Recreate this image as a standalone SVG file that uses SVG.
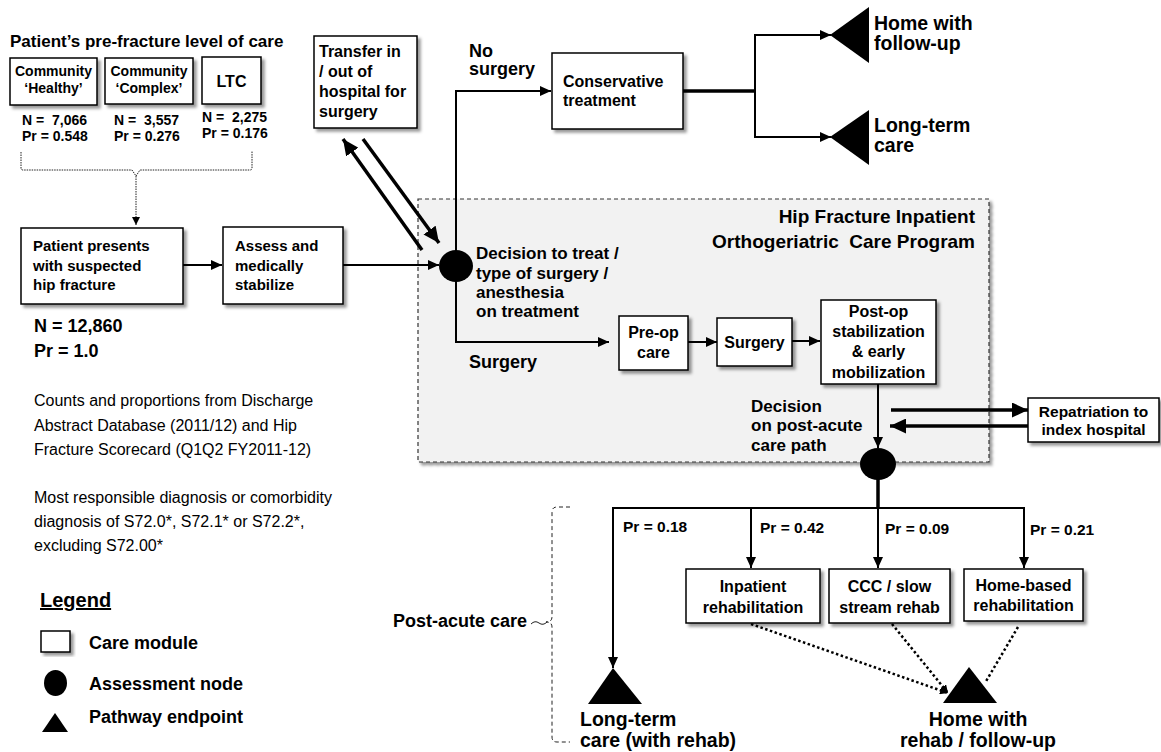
<svg xmlns="http://www.w3.org/2000/svg" width="1161" height="752" viewBox="0 0 1161 752">
<defs>
<style>
text{font-family:"Liberation Sans",Arial,sans-serif;fill:#000}
.b{font-weight:bold}
.pre{white-space:pre}
.box{fill:#fff;stroke:#000;stroke-width:1.5}
.ln{fill:none;stroke:#000;stroke-width:2}
.thk{fill:none;stroke:#000;stroke-width:3.5}
.dot{fill:none;stroke:#000;stroke-width:2.5;stroke-dasharray:2.5 2.5}
.fine{fill:none;stroke:#222;stroke-width:1;stroke-dasharray:1.5 1}
.c{text-anchor:middle}
.r{text-anchor:end}
</style>
<filter id="sh" x="-10%" y="-10%" width="130%" height="130%">
<feDropShadow dx="3" dy="3" stdDeviation="1.5" flood-color="#000" flood-opacity="0.4"/>
</filter>
<marker id="a" markerUnits="userSpaceOnUse" markerWidth="11" markerHeight="10" refX="11" refY="5" orient="auto">
<path d="M0,0 L11,5 L0,10 z" fill="#000"/>
</marker>
<marker id="ab" markerUnits="userSpaceOnUse" markerWidth="16" markerHeight="15" refX="16" refY="7.5" orient="auto">
<path d="M0,0 L16,7.5 L0,15 z" fill="#000"/>
</marker>
<marker id="as" markerUnits="userSpaceOnUse" markerWidth="8" markerHeight="8" refX="8" refY="4" orient="auto">
<path d="M0,0 L8,4 L0,8 z" fill="#000"/>
</marker>
</defs>
<rect width="1161" height="752" fill="#fff"/>

<g id="program">
<rect x="418" y="199" width="571" height="263" fill="#f2f2f2" stroke="#333" stroke-width="1.2" stroke-dasharray="4 3" filter="url(#sh)"/>
<text class="b r" x="975" y="223" font-size="19">Hip Fracture Inpatient</text>
<text class="b r pre" x="975" y="248" font-size="19">Orthogeriatric  Care Program</text>
</g>

<g id="connectors">
<path class="fine" d="M21,152 L21,168 Q21,170 23,170 L132,170 L136,176 L140,170 L250,170 Q252,170 252,168 L252,151"/>
<line class="fine" x1="136" y1="176" x2="136" y2="225" marker-end="url(#as)"/>
<line class="ln" x1="183" y1="265" x2="222" y2="265" marker-end="url(#a)"/>
<line class="ln" x1="343" y1="265" x2="439" y2="265" marker-end="url(#a)"/>
<line class="thk" x1="422" y1="250" x2="343" y2="139" marker-end="url(#ab)"/>
<line class="thk" x1="363" y1="139" x2="439" y2="243" marker-end="url(#ab)"/>
<polyline class="ln" points="456,252 456,91 551,91" marker-end="url(#a)"/>
<polyline class="ln" points="456,280 456,342 609,342" marker-end="url(#a)"/>
<line class="thk" x1="683" y1="91" x2="755" y2="91"/>
<polyline class="ln" points="830,35 755,35 755,137 830,137" stroke-width="2.5"/>
<line class="ln" x1="755" y1="35" x2="831" y2="35" marker-end="url(#a)"/>
<line class="ln" x1="755" y1="137" x2="831" y2="137" marker-end="url(#a)"/>
<line class="ln" x1="688" y1="342" x2="717" y2="342" marker-end="url(#a)"/>
<line class="ln" x1="792" y1="341" x2="820" y2="341" marker-end="url(#a)"/>
<line class="ln" x1="878" y1="384" x2="878" y2="448" stroke-width="1.8" marker-end="url(#a)"/>
<line class="thk" x1="891" y1="410" x2="1028" y2="410" marker-end="url(#ab)"/>
<line class="thk" x1="1028" y1="426" x2="890" y2="426" marker-end="url(#ab)"/>
<line class="thk" x1="878" y1="478" x2="878" y2="508" stroke-width="3"/>
<line class="ln" x1="612" y1="508" x2="1025" y2="508" stroke-width="3"/>
<polyline class="ln" points="613,508 613,668" marker-end="url(#a)"/>
<line class="ln" x1="751" y1="508" x2="751" y2="568" marker-end="url(#a)"/>
<line class="ln" x1="878" y1="508" x2="878" y2="568" marker-end="url(#a)"/>
<polyline class="ln" points="1024,508 1024,568" marker-end="url(#a)"/>
<line class="dot" x1="751" y1="624" x2="948" y2="693" marker-end="url(#as)"/>
<line class="dot" x1="892" y1="624" x2="948" y2="693" marker-end="url(#as)"/>
<line class="dot" x1="1018" y1="627" x2="985" y2="683"/>
<path d="M570,507 L557,507 Q552,507 552,512 L552,617 Q552,622 546,622 Q552,622 552,627 L552,737 Q552,742 557,742 L570,742" fill="none" stroke="#222" stroke-width="1" stroke-dasharray="4 3"/>
<path d="M531,624 Q535,620 539,623 Q543,626 547,622" fill="none" stroke="#222" stroke-width="1"/>
</g>

<g id="title">
<text class="b" x="10" y="47" font-size="17">Patient’s pre-fracture level of care</text>
</g>

<g id="healthy">
<rect class="box" x="10" y="58" width="87" height="47" filter="url(#sh)"/>
<text class="b c" x="53.5" y="76" font-size="14">Community</text>
<text class="b c" x="53.5" y="93" font-size="14">‘Healthy’</text>
<text class="b pre" x="22" y="125" font-size="14">N =  7,066</text>
<text class="b" x="22" y="141" font-size="14">Pr = 0.548</text>
</g>
<g id="complex">
<rect class="box" x="105" y="58" width="88" height="46" filter="url(#sh)"/>
<text class="b c" x="149" y="76" font-size="14">Community</text>
<text class="b c" x="149" y="93" font-size="14">‘Complex’</text>
<text class="b pre" x="114" y="125" font-size="14">N =  3,557</text>
<text class="b" x="114" y="141" font-size="14">Pr = 0.276</text>
</g>
<g id="ltc">
<rect class="box" x="202" y="57" width="59" height="47" filter="url(#sh)"/>
<text class="b c" x="231.5" y="87" font-size="16">LTC</text>
<text class="b pre" x="202" y="122" font-size="14">N =  2,275</text>
<text class="b" x="202" y="138" font-size="14">Pr = 0.176</text>
</g>

<g id="presents">
<rect class="box" x="21" y="228" width="162" height="76" filter="url(#sh)"/>
<text class="b" x="33" y="251" font-size="15">Patient presents</text>
<text class="b" x="33" y="271" font-size="15">with suspected</text>
<text class="b" x="33" y="290" font-size="15">hip fracture</text>
<text class="b" x="34" y="332" font-size="18">N = 12,860</text>
<text class="b" x="34" y="357" font-size="18">Pr = 1.0</text>
</g>

<g id="assess">
<rect class="box" x="223" y="227" width="120" height="77" filter="url(#sh)"/>
<text class="b" x="235" y="251" font-size="15">Assess and</text>
<text class="b" x="235" y="271" font-size="15">medically</text>
<text class="b" x="235" y="290" font-size="15">stabilize</text>
</g>

<g id="transfer">
<rect class="box" x="314" y="36" width="103" height="92" filter="url(#sh)"/>
<text class="b" x="319" y="57" font-size="16">Transfer in</text>
<text class="b" x="319" y="77" font-size="16">/ out of</text>
<text class="b" x="319" y="97" font-size="16">hospital for</text>
<text class="b" x="319" y="117" font-size="16">surgery</text>
</g>

<g id="decision1">
<ellipse cx="456" cy="266" rx="17" ry="16" fill="#000"/>
<text class="b" x="476" y="259" font-size="17">Decision to treat /</text>
<text class="b" x="476" y="279" font-size="17">type of surgery /</text>
<text class="b" x="476" y="298" font-size="17">anesthesia</text>
<text class="b" x="476" y="317" font-size="17">on treatment</text>
<text class="b" x="469" y="57" font-size="18">No</text>
<text class="b" x="469" y="75" font-size="18">surgery</text>
<text class="b" x="469" y="368" font-size="18">Surgery</text>
</g>

<g id="conservative">
<rect class="box" x="552" y="53" width="131" height="76" filter="url(#sh)"/>
<text class="b" x="563" y="87" font-size="16">Conservative</text>
<text class="b" x="563" y="106" font-size="16">treatment</text>
</g>

<g id="home-top">
<polygon points="830,35 869,7 869,63" fill="#000"/>
<text class="b" x="874" y="30" font-size="19.5">Home with</text>
<text class="b" x="874" y="50" font-size="19.5">follow-up</text>
</g>
<g id="ltc-top">
<polygon points="830,137 869,110 869,165" fill="#000"/>
<text class="b" x="874" y="132" font-size="19.5">Long-term</text>
<text class="b" x="874" y="152" font-size="19.5">care</text>
</g>

<g id="preop">
<rect class="box" x="619" y="316" width="69" height="54" filter="url(#sh)"/>
<text class="b c" x="653.5" y="338" font-size="16">Pre-op</text>
<text class="b c" x="653.5" y="358" font-size="16">care</text>
</g>
<g id="surgery">
<rect class="box" x="717" y="318" width="75" height="48" filter="url(#sh)"/>
<text class="b c" x="754.5" y="348" font-size="16">Surgery</text>
</g>
<g id="postop">
<rect class="box" x="821" y="300" width="115" height="84" filter="url(#sh)"/>
<text class="b c" x="878.5" y="317" font-size="16">Post-op</text>
<text class="b c" x="878.5" y="337" font-size="16">stabilization</text>
<text class="b c" x="878.5" y="357" font-size="16">&amp; early</text>
<text class="b c" x="878.5" y="378" font-size="16">mobilization</text>
</g>

<g id="decision2">
<ellipse cx="878" cy="464" rx="18" ry="16" fill="#000"/>
<text class="b" x="751" y="412" font-size="17">Decision</text>
<text class="b" x="751" y="431" font-size="17">on post-acute</text>
<text class="b" x="751" y="451" font-size="17">care path</text>
</g>

<g id="repatriation">
<rect class="box" x="1028" y="398" width="131" height="44" filter="url(#sh)"/>
<text class="b c" x="1093.5" y="417" font-size="15.5">Repatriation to</text>
<text class="b c" x="1093.5" y="435" font-size="15.5">index hospital</text>
</g>

<g id="probs">
<text class="b" x="623" y="532" font-size="15.5">Pr = 0.18</text>
<text class="b" x="760" y="533" font-size="15.5">Pr = 0.42</text>
<text class="b" x="885" y="534" font-size="15.5">Pr = 0.09</text>
<text class="b" x="1030" y="535" font-size="15.5">Pr = 0.21</text>
</g>

<g id="inpatient">
<rect class="box" x="686" y="569" width="134" height="54" filter="url(#sh)"/>
<text class="b c" x="753" y="592" font-size="16">Inpatient</text>
<text class="b c" x="753" y="613" font-size="16">rehabilitation</text>
</g>
<g id="ccc">
<rect class="box" x="829" y="569" width="121" height="54" filter="url(#sh)"/>
<text class="b c pre" x="889.5" y="592" font-size="16">CCC / slow</text>
<text class="b c" x="889.5" y="613" font-size="16">stream rehab</text>
</g>
<g id="homebased">
<rect class="box" x="964" y="569" width="119" height="52" filter="url(#sh)"/>
<text class="b c" x="1023.5" y="591" font-size="16">Home-based</text>
<text class="b c" x="1023.5" y="611" font-size="16">rehabilitation</text>
</g>

<g id="ltc-bottom">
<polygon points="613,668 642,704 588,704" fill="#000"/>
<text class="b" x="580" y="726" font-size="19.5">Long-term</text>
<text class="b" x="580" y="747" font-size="19.5">care (with rehab)</text>
</g>
<g id="home-bottom">
<polygon points="969,667 997,703 943,703" fill="#000"/>
<text class="b c" x="978" y="726" font-size="19.5">Home with</text>
<text class="b c" x="978" y="747" font-size="19.5">rehab / follow-up</text>
</g>

<g id="postacute">
<text class="b r" x="527" y="627" font-size="18">Post-acute care</text>
</g>

<g id="notes">
<text x="34" y="406" font-size="16">Counts and proportions from Discharge</text>
<text x="34" y="431" font-size="16">Abstract Database (2011/12) and Hip</text>
<text x="34" y="455" font-size="16">Fracture Scorecard (Q1Q2 FY2011-12)</text>
<text x="34" y="503" font-size="16">Most responsible diagnosis or comorbidity</text>
<text x="34" y="527" font-size="16">diagnosis of S72.0*, S72.1* or S72.2*,</text>
<text x="34" y="551" font-size="16">excluding S72.00*</text>
</g>

<g id="legend">
<text class="b" x="40" y="607" font-size="20" text-decoration="underline">Legend</text>
<rect class="box" x="41" y="631" width="29" height="21" filter="url(#sh)"/>
<text class="b" x="89" y="649" font-size="18">Care module</text>
<ellipse cx="55.5" cy="683" rx="11.5" ry="13" fill="#000"/>
<text class="b" x="89" y="690" font-size="18">Assessment node</text>
<polygon points="55,713 68,732 42,732" fill="#000"/>
<text class="b" x="89" y="723" font-size="18">Pathway endpoint</text>
</g>
</svg>
